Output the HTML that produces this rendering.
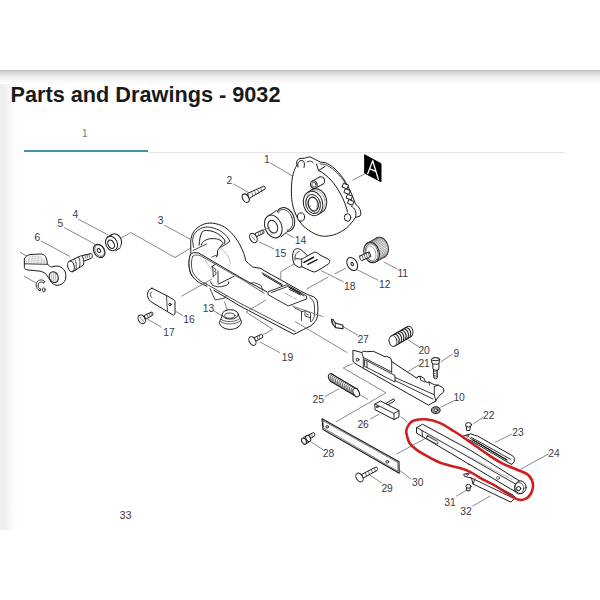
<!DOCTYPE html>
<html><head><meta charset="utf-8">
<style>
html,body{margin:0;padding:0;background:#fff;width:600px;height:600px;overflow:hidden;font-family:"Liberation Sans",sans-serif;}
.shadow{position:absolute;left:0;top:70px;width:600px;height:14px;background:linear-gradient(#bcbcbc 0px,#d6d6d6 2px,#ececec 6px,#f8f8f8 10px,#fdfdfd 14px);}
.leftg{position:absolute;left:0;top:84px;width:18px;height:446px;background:linear-gradient(90deg,#eeeeee 0px,#efefef 5px,#f9f9f9 11px,#fefefe 17px);}
h1{position:absolute;left:10.5px;top:80px;margin:0;font-size:21.7px;font-weight:bold;color:#1a1a1a;white-space:nowrap;line-height:30px;}
.tab1{position:absolute;left:82px;top:128px;font-size:10px;color:#777;}
.n33{position:absolute;left:119.5px;top:509px;font-size:11px;color:#444;}
.teal{position:absolute;left:24px;top:150px;width:124px;height:2px;background:#3a95a2;}
.gline{position:absolute;left:148px;top:152px;width:417px;height:1px;background:#e4e4e4;}
svg{position:absolute;left:0;top:0;}
</style></head><body>
<div class="shadow"></div>
<div class="leftg"></div>
<h1>Parts and Drawings - 9032</h1>
<div class="tab1">1</div>
<div class="teal"></div>
<div class="gline"></div>
<div class="n33">33</div>
<svg width="600" height="600" viewBox="0 0 600 600">
<g stroke="#6a6a6a" stroke-width="0.8" fill="none">
<path d="M270.2,162.8 L292.5,176"/>
<path d="M233.4,183.8 L248.6,192.6"/>
<path d="M164.2,225 L190,239.2"/>
<path d="M78.3,219.2 L108.3,235"/>
<path d="M64.2,227.5 L95,244.2"/>
<path d="M40.8,240.8 L70,256.5"/>
<path d="M365.3,173.6 L352.4,180.3"/>
<path d="M440.7,362 L452.7,354"/>
<path d="M440.7,407.3 L454,400.7"/>
<path d="M383.6,261.8 L397.7,269.4"/>
<path d="M356.5,269.4 L378.2,280.3"/>
<path d="M212.5,310 L223.3,316.7"/>
<path d="M285.3,233 L294,237.7"/>
<path d="M258.7,241.7 L274,249"/>
<path d="M176.1,311.5 L183.1,315.6"/>
<path d="M147.5,319.1 L161.5,327.3"/>
<path d="M320.8,270.5 L343.5,281.8"/>
<path d="M260,342 L280,352.7"/>
<path d="M407.3,339.3 L419.3,347.3"/>
<path d="M406,372.7 L419.3,364.7"/>
<path d="M473.1,424.1 L483.6,417"/>
<path d="M494.9,442.5 L511.9,434"/>
<path d="M520.4,469.4 L548.8,453.8"/>
<path d="M324.7,396.7 L339.3,388.7"/>
<path d="M370,419.3 L379.3,414"/>
<path d="M342,326 L358,335.3"/>
<path d="M311.3,442 L323.3,450"/>
<path d="M370,475.3 L382,483.3"/>
<path d="M399.3,470 L411.3,479.3"/>
<path d="M456.1,496.3 L466.6,490.1"/>
<path d="M472.3,506.3 L490.7,495.8"/>
<path d="M120.3,238.5 L130.8,232.5 L175.0,257.5 L191.7,247.5"/>
<path d="M20.0,252.0 L28.0,257.0"/>
<path d="M24.0,276.0 L36.0,283.0"/>
<path d="M294.7,213.7 L310.7,205.7"/>
<path d="M345.7,268.3 L334.8,273.8"/>
<path d="M328.3,277.0 L306.7,288.9"/>
<path d="M263.3,334.7 L272.7,329.3 L246.0,312.0"/>
<path d="M353.0,363.5 L343.2,368.0 L386.0,392.8 L335.8,422.0"/>
<path d="M359.0,394.2 L368.0,399.5"/>
<path d="M400.7,416.7 L407.3,422.0"/>
<path d="M396.7,454.0 L426.0,438.0"/>
<path d="M231.8,266.7 L244.5,260.3"/>
<path d="M224.5,301.5 L227.5,311.0"/>
</g>
<g id="parts" stroke="#1c1c1c" stroke-width="1" fill="#fff" stroke-linejoin="round" stroke-linecap="round">
<!-- PART 1 housing -->
<path d="M297,165 C296,162 297,159.5 300,158.5 L304.5,158.2 L309.75,156.75 L314.25,159 L320.25,162 L325.5,162.75 C331,165 337,170 342.75,177.75 C347,184 351,192 353.25,198 L355.5,204 L358.5,207 C361,210 361.5,214 360,216 L355.5,217.5 C353,221 350,225 346.5,228 C340,233 333,236 325.5,236.25 C318,236.5 310,232 303,225.75 C297,219 293,210 291.75,199.5 C291,191 291.5,182 292.5,177 C293.5,172 295,168 297,165 Z"/>
<path fill="none" d="M298,167 C297,163 299,160.5 302,160.5 C304.5,161 305,164 304,167.5"/>
<path fill="none" d="M307,162 C309,160.5 312,161 313.5,163"/>
<path fill="none" d="M316.5,164 L318.5,170.5 L325,166.5 M318.5,170.5 C328,175 335,184 340,193 C344,200 346.5,207 347.5,212"/>
<path fill="none" d="M351,206 C355,208 357,212 355.5,217.5"/>
<path fill="none" stroke-width="0.8" d="M320,163.8 L325.2,164.6 C330.5,166.7 336,171 341.2,177.5 C343,179.5 344.5,181.5 345.5,183.5"/>
<g stroke-width="0.9">
<rect x="343" y="184" width="5" height="4" transform="rotate(20 345 186)"/>
<rect x="345" y="189.5" width="5" height="4" transform="rotate(20 347 191)"/>
<rect x="347" y="195" width="5" height="4" transform="rotate(20 349 197)"/>
<rect x="348.5" y="200.5" width="5" height="4" transform="rotate(20 351 202)"/>
</g>
<ellipse cx="317.00" cy="200.90" rx="9.6" ry="12.4" transform="rotate(-15 317.00 200.90)" stroke-width="1"/>
<path d="M307.79,192.29 L311.79,189.79 L322.21,212.01 L318.21,214.51 Z" stroke="none"/>
<path fill="none" stroke-width="1" d="M307.79,192.29 L311.79,189.79 M318.21,214.51 L322.21,212.01"/>
<ellipse cx="313" cy="203.4" rx="9.6" ry="12.4" transform="rotate(-15 313 203.4)" stroke-width="1" />
<ellipse cx="316" cy="201.6" rx="9" ry="11.8" transform="rotate(-15 316 201.6)" fill="none" stroke-width="0.5" stroke="#666"/>
<ellipse cx="313.1" cy="204" rx="7.2" ry="9.7" transform="rotate(-15 313.1 204)" fill="none" stroke-width="0.9"/>
<ellipse cx="313.3" cy="204.1" rx="4.9" ry="7.1" transform="rotate(-15 313.3 204.1)" stroke-width="1.1"/>
<path fill="none" stroke-width="0.6" stroke="#555" d="M315.5,198.5 C317.5,200.5 318,205 316.5,209"/>
<ellipse cx="321.30" cy="180.60" rx="3.3" ry="3.9" transform="rotate(-20 321.30 180.60)" stroke-width="1"/>
<path d="M312.10,181.10 L319.60,177.10 L323.00,184.10 L315.50,188.10 Z" stroke="none"/>
<path fill="none" stroke-width="1" d="M312.10,181.10 L319.60,177.10 M315.50,188.10 L323.00,184.10"/>
<ellipse cx="313.8" cy="184.6" rx="3.3" ry="3.9" transform="rotate(-20 313.8 184.6)" stroke-width="1" />
<ellipse cx="313.9" cy="184.7" rx="2" ry="2.5" transform="rotate(-20 313.9 184.7)" fill="none" stroke-width="0.7"/>
<ellipse cx="301" cy="217" rx="3.6" ry="4.1"/>
<ellipse cx="347.5" cy="217.5" rx="3.2" ry="3.7"/>
<!-- A label -->
<path d="M365,155 L381,163.7 L381,181.7 L365,173.3 Z" fill="#000" stroke="#000"/>
<path d="M367.7,173.7 L372.7,160.7 L378.3,179.3 M369.8,168.8 L376.2,171.6" stroke="#fff" stroke-width="1.3" fill="none"/>
<!-- PART 2 screw -->
<path d="M248,193.2 L263.8,186.2 C265.2,186 265.6,188.5 264.9,189.1 L249.2,198.4 Z"/>
<path fill="none" stroke-width="0.6" d="M252,193 l0.8,2.6 M255,191.7 l0.8,2.6 M258,190.4 l0.8,2.6 M261,189 l0.8,2.6"/>
<ellipse cx="245.7" cy="198.2" rx="3" ry="4.5" transform="rotate(-30 245.7 198.2)"/>
<!-- PART 14 pulley -->
<ellipse cx="285.5" cy="219.5" rx="8.8" ry="12.2" transform="rotate(-20 285.5 219.5)"/>
<ellipse cx="285" cy="219.8" rx="7.4" ry="10.8" transform="rotate(-20 285 219.8)" fill="none" stroke-width="0.7"/>
<path d="M268,216.5 L276.5,210.5 L287.5,231.5 L280.5,237.2 Z" stroke="none"/>
<path fill="none" d="M268.5,216 L276.5,210.5 M281,236.8 L287.8,231.3"/>
<ellipse cx="273.3" cy="226.5" rx="8.3" ry="11.8" transform="rotate(-22 273.3 226.5)"/>
<ellipse cx="272.8" cy="226.7" rx="4.6" ry="6.6" transform="rotate(-22 272.8 226.7)"/>
<!-- PART 15 screw -->
<path d="M255.5,233.2 L262.5,230 C263.8,230 264.4,232.4 263.6,233.2 L256.5,236.8 Z"/>
<path fill="none" stroke-width="0.55" d="M258,232.2 l0.9,3 M260,231.3 l0.9,3 M262,230.4 l0.9,3"/>
<ellipse cx="253.4" cy="238" rx="3.3" ry="5" transform="rotate(-30 253.4 238)"/>
<path fill="none" stroke-width="0.6" d="M251.5,236 L255,240"/>
<!-- PART 4 ring -->
<ellipse cx="115.5" cy="241" rx="5.8" ry="7.4" transform="rotate(-25 115.5 241)"/>
<path d="M106.5,238.5 L111,235.5 L120.5,247.5 L115.5,250.5 Z" stroke="none"/>
<path fill="none" d="M107,237.2 L111.5,234.7 M115.8,250.6 L120.3,247.8"/>
<ellipse cx="111.5" cy="243.5" rx="5.7" ry="7.4" transform="rotate(-25 111.5 243.5)"/>
<ellipse cx="111.1" cy="244.3" rx="3" ry="4.4" transform="rotate(-25 111.1 244.3)"/>
<!-- PART 5 washer -->
<ellipse cx="99.2" cy="250.9" rx="5.3" ry="7.1" transform="rotate(-30 99.2 250.9)"/>
<ellipse cx="99.6" cy="250.6" rx="4.4" ry="6.2" transform="rotate(-30 99.6 250.6)" fill="none" stroke-width="0.6"/>
<ellipse cx="98.9" cy="250.5" rx="1.6" ry="2" transform="rotate(-30 98.9 250.5)"/>
<!-- PART 6 pin -->
<path d="M82.5,255.5 L91.2,253.6 C92.6,253.8 92.8,257.6 91.6,258.2 L83.4,261.4 Z"/>
<path fill="none" stroke-width="0.6" d="M85,254.9 l0.7,3.3 M87,254.5 l0.7,3.3 M89,254.1 l0.7,3.3"/>
<path d="M70.2,260.8 L80.8,255.8 C83.6,255.5 84.4,262.5 83.2,265.2 L72.5,271.9 Z"/>
<path fill="none" stroke-width="0.8" d="M74.5,259 C76.5,261.5 77,267.5 75.5,270.5 M78.5,257 C80.3,259.5 80.5,264 79.3,267.5"/>
<ellipse cx="71" cy="266.3" rx="3.2" ry="5.4" transform="rotate(-12 71 266.3)"/>
<!-- lever -->
<path d="M24.5,258.5 C25.5,256.5 27.5,255.3 30,254.6 L40,254 C42.5,254 44.5,254.8 45.5,256.5 C46.5,258 47,260 47.1,262 L47.3,264 C48.5,265.5 50,266.5 51.7,267 C53,266.5 55,266 57,266 C61,266.3 64,269 65.3,272 C66.3,275 66,279 64.5,281.5 C62.5,284 60,285.3 57,285.3 C54,285 52,283.5 50.5,281 C49,278.5 47.5,276 46.2,274.3 C44.5,272.5 42,271.5 39,271 L28,270 C26,269.6 24.8,269 24.5,268 Z"/>
<path fill="none" stroke-width="0.9" d="M24.5,263.8 L46.8,264.3"/>
<path fill="none" stroke-width="0.4" stroke="#a0a0a0" d="M26,261.5 L45.5,262.5 M26.5,259.8 L45,260.8 M28,258.1 L43.5,259.1 M30.5,256.5 L41,257.2 M29.5,256.5 L28.5,263.8 M32.5,255.2 L31.5,264 M35.5,254.6 L34.8,264.2 M38.5,254.8 L38,264.3 M41.5,256.3 L41.2,264.3 M44.3,258.3 L44,264.2"/>
<ellipse cx="53.8" cy="277.2" rx="4.4" ry="5.6" transform="rotate(-25 53.8 277.2)"/>
<path fill="none" stroke-width="0.45" stroke="#555" d="M51,273.5 L52,281.5 M53,272 L54,282 M55,272 L56,281.5 M57,273 L57.5,280"/>
<path fill="none" stroke-width="0.9" d="M44.8,281.7 C42.5,279 38.5,279.3 36.8,282.5 C35.3,285.5 36.5,289.5 40,290.8 M43.6,283 C41.6,281.3 39.3,281.8 38.4,284 C37.5,286.5 38.6,288.7 40.8,289.3 M44.8,281.7 L43.6,283 M40,290.8 L40.8,289.3"/>
<ellipse cx="43.8" cy="289.8" rx="1.4" ry="2" fill="none" stroke-width="0.9"/>
<!-- PART 3 arm -->
<path d="M190.7,243.3 C190.5,236 193,230 200.6,225.6 C206,222.5 213,222 221.8,225.6 C229,229 235,236 240,245 C243,251 245,256 245.7,260.7 L248.5,263.5 L252.7,267 L261.2,268.5 L264.1,270.6 L274,276.2 L288.2,284 L299.5,290.4 L308,294.7 L313.7,296.8 C315.5,298 316.8,299.5 317.5,302 C318,306 318,311 317.6,314.5 C317.2,318 316.5,320 315,321.6 C313.5,323.5 312.5,324.5 310.8,325.8 L303.7,329.4 L296.7,333 L293.8,334.3 L240,306 L207,286.2 C200,283 193,279 190.5,273 C188.5,267 188.5,260 190.7,254 Z"/>
<path fill="none" stroke-width="0.9" d="M193.7,247.3 C192,242 192.5,236 195,233 C198,229.5 202,227.5 206,227 C211,226.8 216,228.5 219.7,230.5 C223.5,232.8 226.5,235.5 228.3,238.6 L230,241.3 L226.2,244 L220.75,247.25"/>
<path fill="none" d="M199.1,245.1 C199.5,240 200,236 202.3,231.5 C204,230.5 206,230.3 208,230.5 C212,230.8 216,232.5 218.6,234.25 C221,235.8 223,237.5 224.5,239.8 C225.2,241.3 225,242.8 224,244"/>
<path fill="none" d="M201.25,245.1 C202,243 203,241.5 204.5,240.75 C207,239.3 209,238.8 211,238.6 C214,238.6 216.5,238.8 217.5,239.1 C219.5,239.7 221,240.5 221.8,241.3 C222.5,242 223,243 222.9,243.5 L220.75,246.2 L217.5,250.5 L217.5,254.8 L216.4,257"/>
<path fill="none" stroke-width="0.8" d="M193,250.5 L206.5,244"/>
<path fill="none" stroke-width="0.6" stroke="#888" d="M220.75,248.3 C223,250 225,252 226.2,253.75 C228,256 229,258 229.4,259.2 C230,261 230.3,262.5 230.5,263.5"/>
<!-- oval front -->
<path d="M190.7,254.7 C193,252 197,252 203.4,255.4 L213.3,260.3 C216,268 217,278 213.3,291.5 C205,288 196,282 192,275 C188.5,268 188.5,260 190.7,254.7 Z" stroke="none"/>
<path fill="none" d="M190.3,254.8 C188.3,260 188.4,267 190.8,273.5 C193.5,279 198,282.5 203,284.5 L207,286.2"/>
<path fill="none" stroke-width="0.8" d="M192.8,256.2 C190.8,261 191,267 193,272.5 C195.5,277.5 199.5,281 204,283 L206.5,284"/>
<path fill="none" d="M190.3,254.8 C192,252.5 195,252 199,253.2 L243,279 L266.9,291.8"/>
<path fill="none" stroke-width="0.7" d="M192.8,256.2 C195,254.5 197.5,254.5 201,256 L244,280.6 L264,293.2"/>
<path fill="none" stroke-width="0.8" d="M204.5,283 L240,303.2 L295.2,331.5"/>
<!-- hub -->
<path fill="none" stroke-width="0.9" d="M211.3,267 L215.3,264.3 M212.7,266.3 L213.3,277 M218,271 L218,283 M214,268 C216,268.5 216.5,270.5 214.5,271.5 C216.5,272 216.8,274.5 214.2,275.5"/>
<path fill="none" stroke-width="0.9" d="M210.7,281.7 C210.5,283.5 212,285.5 215.3,286.3 C218,287 221,287 224,286 C226.5,285.5 228.5,284.5 228.7,283 L228.7,281.7 M218,284.3 L234,276.3"/>
<path fill="none" stroke-width="0.6" stroke="#999" d="M205.3,260.3 L211.3,269.7"/>
<path fill="none" stroke-width="0.8" d="M212,257 L216.7,255"/>
<!-- arm inner details -->
<path fill="none" stroke-width="0.8" d="M250.6,283.3 L254.2,282.6 L261.2,285.5 L262.7,290.4"/>
<path fill="none" stroke-width="0.9" d="M268.3,291.8 L286.7,284.7 L306.6,296 L306.6,299 L288.2,306 L268.3,294.7 Z M271.5,292.5 L287.5,286.5 L304,296"/>
<path fill="none" stroke-width="0.6" stroke="#777" d="M285,293 L292,297 M294,298 l2,1"/>
<path fill="none" stroke-width="1" d="M262,272.7 L282.5,284.7 M263,274.6 L282,285.8 M289.6,287.6 L301,293.2 M289.6,289.4 L300.5,294.8"/>
<path fill="none" stroke-width="0.8" d="M301.5,312 L301.5,320.5 M301.5,312 L305,310.5 L310.5,313 L310.5,321.5 M305,310.5 L305,316 L310.5,318"/>
<path fill="none" stroke-width="0.7" d="M306.5,314 l2,1"/>
<path fill="none" stroke-width="0.8" d="M210,288.5 L215,300 L225,298 L226.5,295.5"/>
<path fill="none" stroke-width="0.8" d="M309.5,297 C312.5,299 314,302 314.5,306 L314.5,314 C314.3,317.5 313.5,319.5 311.5,321.5 M294,307.5 L302.3,311.7"/>
<!-- PART 13 cap -->
<path d="M222.3,315 C221.8,318 220,320 219.5,322.5 C219.6,326.3 224.5,329.4 230.3,329.4 C236.5,329.3 241.2,326 241.4,321.5 C241,319.5 239.5,317.5 238.5,315 Z"/>
<path fill="none" stroke-width="0.7" d="M220.6,321.5 C224,325 236.5,325 240.6,320.5 M221.2,319.5 C225,322.5 236,322.5 239.8,318.5"/>
<ellipse cx="230.3" cy="314.4" rx="8.1" ry="4.7"/>
<ellipse cx="229.8" cy="315.6" rx="5.2" ry="2.6" stroke-width="0.8"/>
<!-- PART 16 plate -->
<path d="M152,288.2 L168,296.3 L173.8,299.8 C174.8,300.5 175,301 175,302 L175,313 C175,314.5 174,315.2 173,315 L168,312 L153,303 C150,301.5 148,299 147.5,295.5 C147.3,292 148.8,289 152,288.2 Z"/>
<path fill="none" stroke-width="0.8" d="M166.5,296.5 L167.5,311.3 M151.5,292 C150,293.5 150,296 151.5,297.5"/>
<circle cx="170" cy="304.5" r="1.2"/>
<!-- PART 17 screw -->
<path d="M144.5,315.5 L151.5,312 C153,312 153.3,314.8 152.6,315.3 L146,319 Z"/>
<path fill="none" stroke-width="0.55" d="M147,314.3 l0.9,3 M149,313.3 l0.9,3 M151,312.4 l0.9,3"/>
<ellipse cx="141.7" cy="319.3" rx="3.3" ry="4.7" transform="rotate(-30 141.7 319.3)"/>
<path fill="none" stroke-width="0.6" d="M140,317.3 L143.5,321.3"/>
<!-- PART 19 screw -->
<path d="M254.5,337.5 L261.5,334.3 C262.8,334.5 263,337.2 262.3,337.7 L255.5,341.3 Z"/>
<path fill="none" stroke-width="0.55" d="M257,336.5 l0.9,3 M259,335.5 l0.9,3"/>
<ellipse cx="252.4" cy="341" rx="3.1" ry="4.7" transform="rotate(-30 252.4 341)"/>
<!-- PART 18 clip -->
<path d="M293.3,261.7 C292.3,258 292.3,254 293.75,250.8 C295,248.5 298,248 300.8,249.6 L303.3,251.7 L307.5,255.8 L314.6,252.1 L316.7,252.5 L320,255 L328.3,259.2 C329.5,260 330,261 329.6,261.7 C329.3,263 329,263.5 328.75,263.75 L318.3,270.4 L314.2,272.1 L311.7,271.25 L301.7,266.7 L299.2,267.5 L295,265 Z"/>
<path fill="none" stroke-width="0.9" d="M295,260 C294.5,256 296,252 299,251.5 M301.7,259.2 L307.5,255.8 M301.7,259.2 L301.7,266.7 M303.3,262.5 L313.3,257 M296,258.5 L301.7,259.2"/>
<path fill="none" stroke-width="1.4" d="M304.2,262.3 L313.6,257.3 M307.8,264.4 L317.2,259.7"/>
<!-- PART 11 knob -->
<ellipse cx="380.60" cy="247.50" rx="7.6" ry="10.4" transform="rotate(-15 380.60 247.50)" stroke-width="1"/>
<path d="M367.67,242.95 L376.67,237.95 L384.53,257.05 L375.53,262.05 Z" stroke="none"/>
<path fill="none" stroke-width="1" d="M367.67,242.95 L376.67,237.95 M375.53,262.05 L384.53,257.05"/>
<path fill="none" stroke="#555" stroke-width="0.55" d="M368.65,242.53 l9.00,-5.00 M369.82,242.29 l9.00,-5.00 M370.90,242.29 l9.00,-5.00 M372.13,242.52 l9.00,-5.00 M373.21,242.94 l9.00,-5.00 M374.38,243.63 l9.00,-5.00 M375.49,244.54 l9.00,-5.00 M376.40,245.51 l9.00,-5.00 M377.31,246.76 l9.00,-5.00 M377.99,248.00 l9.00,-5.00 M378.62,249.49 l9.00,-5.00 M379.03,250.88 l9.00,-5.00 M379.32,252.49 l9.00,-5.00 M379.42,254.09 l9.00,-5.00 M379.35,255.48 l9.00,-5.00 M379.08,256.97 l9.00,-5.00 M378.69,258.21 l9.00,-5.00 M378.09,259.47 l9.00,-5.00 M377.42,260.45 l9.00,-5.00 M376.54,261.36 l9.00,-5.00 "/>
<ellipse cx="371.6" cy="252.5" rx="7.6" ry="10.4" transform="rotate(-15 371.6 252.5)" stroke-width="1" />
<ellipse cx="371.8" cy="252.6" rx="6.2" ry="9" transform="rotate(-15 371.8 252.6)" fill="none" stroke-width="0.6"/>
<ellipse cx="371" cy="253.3" rx="4.8" ry="7.5" transform="rotate(-15 371 253.3)" fill="none" stroke-width="0.6" stroke="#777"/>
<path d="M359.8,256 L369.2,251.8 L371,256.5 L361.8,260.6 C360.5,261 359.3,257 359.8,256 Z"/>
<path fill="none" stroke-width="0.6" d="M362,255 l1.4,4.2 M364,254.1 l1.4,4.2 M366,253.2 l1.4,4.2 M368,252.3 l1.4,4.2"/>
<!-- PART 12 washer -->
<ellipse cx="352.2" cy="264" rx="4.8" ry="7" transform="rotate(-30 352.2 264)"/>
<ellipse cx="352.2" cy="264" rx="1.2" ry="1.7" transform="rotate(-30 352.2 264)"/>
<!-- PART 27 clip -->
<path d="M331.5,319.2 L333,319.5 L335.3,323 L342.9,325.2 L343,328.8 L335.5,327.6 L332,323 Z" stroke-width="1.1"/>
<path fill="none" stroke-width="0.8" d="M332.3,320.8 L333,324.3 M335.3,323 L335.5,327.6"/>
<!-- PART 20 spring -->
<ellipse cx="409.00" cy="331.70" rx="3.9" ry="5.4" transform="rotate(-10 409.00 331.70)" stroke-width="1"/>
<path d="M391.10,336.04 L407.10,326.74 L410.90,336.66 L394.90,345.96 Z" stroke="none"/>
<path fill="none" stroke-width="1" d="M391.10,336.04 L407.10,326.74 M394.90,345.96 L410.90,336.66"/>
<path fill="none" stroke="#222" stroke-width="1.1" d="M393.39,334.71 L393.76,334.52 L394.15,334.40 L394.55,334.33 L394.96,334.31 L395.37,334.36 L395.79,334.46 L396.19,334.63 L396.59,334.84 L396.97,335.11 L397.34,335.43 L397.68,335.80 L398.00,336.21 L398.28,336.65 L398.54,337.13 L398.75,337.64 L398.93,338.17 L399.07,338.72 L399.17,339.27 L399.23,339.83 L399.24,340.39 L399.21,340.94 L399.13,341.48 L399.02,342.00 L398.86,342.49 L398.66,342.95 L398.43,343.38 L398.16,343.76 L397.86,344.10 L397.54,344.39 L397.19,344.63 L397.19,344.63 M395.67,333.38 L396.04,333.20 L396.43,333.07 L396.84,333.00 L397.25,332.98 L397.66,333.03 L398.07,333.14 L398.48,333.30 L398.88,333.51 L399.26,333.78 L399.62,334.10 L399.97,334.47 L400.28,334.88 L400.57,335.33 L400.82,335.80 L401.04,336.31 L401.22,336.84 L401.36,337.39 L401.46,337.94 L401.51,338.51 L401.52,339.07 L401.49,339.62 L401.42,340.15 L401.30,340.67 L401.15,341.16 L400.95,341.62 L400.72,342.05 L400.45,342.43 L400.15,342.77 L399.82,343.06 L399.47,343.30 L399.47,343.30 M397.96,332.05 L398.33,331.87 L398.72,331.74 L399.12,331.67 L399.53,331.66 L399.95,331.70 L400.36,331.81 L400.77,331.97 L401.16,332.19 L401.55,332.46 L401.91,332.78 L402.25,333.14 L402.57,333.55 L402.85,334.00 L403.11,334.48 L403.32,334.98 L403.50,335.51 L403.64,336.06 L403.74,336.62 L403.80,337.18 L403.81,337.74 L403.78,338.29 L403.70,338.83 L403.59,339.34 L403.43,339.83 L403.24,340.30 L403.00,340.72 L402.74,341.11 L402.44,341.45 L402.11,341.74 L401.76,341.98 L401.76,341.98 M400.24,330.72 L400.62,330.54 L401.01,330.41 L401.41,330.34 L401.82,330.33 L402.23,330.37 L402.64,330.48 L403.05,330.64 L403.45,330.86 L403.83,331.13 L404.20,331.45 L404.54,331.81 L404.85,332.22 L405.14,332.67 L405.39,333.15 L405.61,333.66 L405.79,334.18 L405.93,334.73 L406.03,335.29 L406.08,335.85 L406.10,336.41 L406.06,336.96 L405.99,337.50 L405.87,338.01 L405.72,338.51 L405.52,338.97 L405.29,339.39 L405.02,339.78 L404.72,340.12 L404.39,340.41 L404.04,340.65 L404.04,340.65 M402.53,329.40 L402.90,329.21 L403.29,329.08 L403.69,329.01 L404.10,329.00 L404.52,329.05 L404.93,329.15 L405.34,329.31 L405.73,329.53 L406.12,329.80 L406.48,330.12 L406.82,330.48 L407.14,330.89 L407.42,331.34 L407.68,331.82 L407.90,332.33 L408.08,332.86 L408.21,333.40 L408.31,333.96 L408.37,334.52 L408.38,335.08 L408.35,335.63 L408.28,336.17 L408.16,336.69 L408.00,337.18 L407.81,337.64 L407.57,338.06 L407.31,338.45 L407.01,338.79 L406.68,339.08 L406.33,339.32 L406.33,339.32 M404.81,328.07 L405.19,327.88 L405.58,327.75 L405.98,327.68 L406.39,327.67 L406.80,327.72 L407.22,327.82 L407.62,327.98 L408.02,328.20 L408.40,328.47 L408.77,328.79 L409.11,329.16 L409.42,329.56 L409.71,330.01 L409.96,330.49 L410.18,331.00 L410.36,331.53 L410.50,332.07 L410.60,332.63 L410.65,333.19 L410.67,333.75 L410.64,334.30 L410.56,334.84 L410.45,335.36 L410.29,335.85 L410.09,336.31 L409.86,336.74 L409.59,337.12 L409.29,337.46 L408.97,337.75 L408.61,337.99 L408.61,337.99 "/>
<ellipse cx="393" cy="341" rx="3.9" ry="5.4" transform="rotate(-10 393 341)" stroke-width="1"/>
<!-- PART 21 rail -->
<path d="M353.3,350.3 L361.7,352.5 L363.3,351.3 L366.7,351.7 L373.3,351.3 L385,356.7 L386.7,356.3 L390.8,358.3 L391.7,361.7 L417,378.3 L417.7,376.7 L420.3,376.3 L423.7,378 L425,380.7 L426.3,382.3 L429,382 L432.3,383.7 L434.3,384.7 L438.3,385.3 L442.3,387.3 L443.7,388.7 L443.7,392 L439.7,395.3 L437,398.7 L435.7,401.3 L430.3,404 L428.3,405 L363.3,368.3 L355,363.3 L353.3,361.7 Z"/>
<path fill="none" stroke-width="0.9" d="M361.7,352.5 L363.3,357.5 L363.3,368.3 M363.3,357.5 L391.7,372 M365,359.8 L395,375.5 L395,382 L365,366.5 Z M367,361.5 L367,367.3 M395,377.5 L434.3,394.7 M395,380.5 L433,399 M391.7,361.7 L391.7,372 M434.3,386.7 L434.3,394.7 L435.7,400.5 M434.3,386.7 L438.3,384.8 M420.3,376.3 L420.5,380 L425,382 M429,382 L429.5,385"/>
<circle cx="357.5" cy="359.7" r="1.4"/>
<!-- PART 9 screw -->
<path d="M433.8,369.5 L437.3,369.5 L437.2,378 C436.8,379.2 434.2,379.2 433.9,378 Z"/>
<path fill="none" stroke-width="0.6" d="M433.9,371.5 l3.4,-0.7 M433.9,373.5 l3.4,-0.7 M433.9,375.5 l3.4,-0.7 M433.9,377.3 l3.3,-0.6"/>
<path d="M433.1,363.4 L439,363.4 L438.8,369.5 C437.5,370.5 434.5,370.5 433.3,369.5 Z"/>
<path d="M431.5,359.2 C431.5,357.5 439.6,357.5 439.6,359.2 L439,363.4 C437.5,364.6 433.5,364.6 432.2,363.4 Z"/>
<ellipse cx="435.55" cy="359.2" rx="4.05" ry="1.5"/>
<!-- PART 10 washer -->
<ellipse cx="435.8" cy="410.2" rx="4.3" ry="3.3" stroke-width="1.2"/>
<ellipse cx="435.8" cy="410.2" rx="3.2" ry="2.4" fill="none" stroke-width="1" stroke="#777"/>
<ellipse cx="435.8" cy="410.2" rx="1.9" ry="1.3" stroke-width="1"/>
<!-- PART 25 spring -->
<ellipse cx="331.70" cy="378.00" rx="2.9" ry="4.5" transform="rotate(-25 331.70 378.00)" stroke-width="1"/>
<path d="M355.80,396.32 L331.30,381.82 L332.10,374.18 L356.60,388.68 Z" stroke="none"/>
<path fill="none" stroke-width="1" d="M355.80,396.32 L331.30,381.82 M356.60,388.68 L332.10,374.18"/>
<path fill="none" stroke="#222" stroke-width="0.9" d="M354.05,395.28 L353.71,395.06 L353.39,394.81 L353.07,394.51 L352.77,394.19 L352.49,393.83 L352.23,393.45 L352.00,393.04 L351.79,392.62 L351.61,392.18 L351.46,391.74 L351.35,391.30 L351.26,390.85 L351.22,390.41 L351.21,389.99 L351.23,389.58 L351.29,389.19 L351.38,388.83 L351.51,388.49 L351.67,388.19 L351.86,387.92 L352.08,387.69 L352.33,387.51 L352.59,387.37 L352.88,387.27 L353.19,387.21 L353.51,387.21 L353.84,387.25 L354.17,387.34 L354.51,387.47 L354.85,387.65 L354.85,387.65 M352.30,394.25 L351.96,394.03 L351.64,393.77 L351.32,393.48 L351.02,393.15 L350.74,392.79 L350.48,392.41 L350.25,392.00 L350.04,391.58 L349.86,391.15 L349.71,390.71 L349.60,390.26 L349.51,389.82 L349.47,389.38 L349.46,388.95 L349.48,388.54 L349.54,388.15 L349.63,387.79 L349.76,387.46 L349.92,387.15 L350.11,386.89 L350.33,386.66 L350.58,386.47 L350.84,386.33 L351.13,386.23 L351.44,386.18 L351.76,386.17 L352.09,386.21 L352.42,386.30 L352.76,386.43 L353.10,386.61 L353.10,386.61 M350.55,393.21 L350.21,392.99 L349.89,392.74 L349.57,392.44 L349.27,392.11 L348.99,391.76 L348.73,391.37 L348.50,390.97 L348.29,390.55 L348.11,390.11 L347.96,389.67 L347.85,389.22 L347.76,388.78 L347.72,388.34 L347.71,387.92 L347.73,387.51 L347.79,387.12 L347.88,386.76 L348.01,386.42 L348.17,386.12 L348.36,385.85 L348.58,385.62 L348.83,385.44 L349.09,385.29 L349.38,385.20 L349.69,385.14 L350.01,385.14 L350.34,385.18 L350.67,385.27 L351.01,385.40 L351.35,385.57 L351.35,385.57 M348.80,392.18 L348.46,391.96 L348.14,391.70 L347.82,391.41 L347.52,391.08 L347.24,390.72 L346.98,390.34 L346.75,389.93 L346.54,389.51 L346.36,389.08 L346.21,388.63 L346.10,388.19 L346.01,387.74 L345.97,387.31 L345.96,386.88 L345.98,386.47 L346.04,386.08 L346.13,385.72 L346.26,385.38 L346.42,385.08 L346.61,384.82 L346.83,384.59 L347.08,384.40 L347.34,384.26 L347.63,384.16 L347.94,384.11 L348.26,384.10 L348.59,384.14 L348.92,384.23 L349.26,384.36 L349.60,384.54 L349.60,384.54 M347.05,391.14 L346.71,390.92 L346.39,390.66 L346.07,390.37 L345.77,390.04 L345.49,389.69 L345.23,389.30 L345.00,388.90 L344.79,388.48 L344.61,388.04 L344.46,387.60 L344.35,387.15 L344.26,386.71 L344.22,386.27 L344.21,385.85 L344.23,385.44 L344.29,385.05 L344.38,384.68 L344.51,384.35 L344.67,384.05 L344.86,383.78 L345.08,383.55 L345.33,383.37 L345.59,383.22 L345.88,383.12 L346.19,383.07 L346.51,383.07 L346.84,383.11 L347.17,383.19 L347.51,383.33 L347.85,383.50 L347.85,383.50 M345.30,390.10 L344.96,389.89 L344.64,389.63 L344.32,389.33 L344.02,389.01 L343.74,388.65 L343.48,388.27 L343.25,387.86 L343.04,387.44 L342.86,387.01 L342.71,386.56 L342.60,386.12 L342.51,385.67 L342.47,385.24 L342.46,384.81 L342.48,384.40 L342.54,384.01 L342.63,383.65 L342.76,383.31 L342.92,383.01 L343.11,382.74 L343.33,382.52 L343.58,382.33 L343.84,382.19 L344.13,382.09 L344.44,382.04 L344.76,382.03 L345.09,382.07 L345.42,382.16 L345.76,382.29 L346.10,382.47 L346.10,382.47 M343.55,389.07 L343.21,388.85 L342.89,388.59 L342.57,388.30 L342.27,387.97 L341.99,387.61 L341.73,387.23 L341.50,386.83 L341.29,386.40 L341.11,385.97 L340.96,385.53 L340.85,385.08 L340.76,384.64 L340.72,384.20 L340.71,383.77 L340.73,383.36 L340.79,382.98 L340.88,382.61 L341.01,382.28 L341.17,381.97 L341.36,381.71 L341.58,381.48 L341.83,381.29 L342.09,381.15 L342.38,381.05 L342.69,381.00 L343.01,380.99 L343.34,381.04 L343.67,381.12 L344.01,381.26 L344.35,381.43 L344.35,381.43 M341.80,388.03 L341.46,387.81 L341.14,387.56 L340.82,387.26 L340.52,386.94 L340.24,386.58 L339.98,386.20 L339.75,385.79 L339.54,385.37 L339.36,384.93 L339.21,384.49 L339.10,384.05 L339.01,383.60 L338.97,383.16 L338.96,382.74 L338.98,382.33 L339.04,381.94 L339.13,381.58 L339.26,381.24 L339.42,380.94 L339.61,380.67 L339.83,380.44 L340.08,380.26 L340.34,380.12 L340.63,380.02 L340.94,379.96 L341.26,379.96 L341.59,380.00 L341.92,380.09 L342.26,380.22 L342.60,380.40 L342.60,380.40 M340.05,387.00 L339.71,386.78 L339.39,386.52 L339.07,386.23 L338.77,385.90 L338.49,385.54 L338.23,385.16 L338.00,384.75 L337.79,384.33 L337.61,383.90 L337.46,383.46 L337.35,383.01 L337.26,382.57 L337.22,382.13 L337.21,381.70 L337.23,381.29 L337.29,380.90 L337.38,380.54 L337.51,380.21 L337.67,379.90 L337.86,379.64 L338.08,379.41 L338.33,379.22 L338.59,379.08 L338.88,378.98 L339.19,378.93 L339.51,378.92 L339.84,378.96 L340.17,379.05 L340.51,379.18 L340.85,379.36 L340.85,379.36 M338.30,385.96 L337.96,385.74 L337.64,385.49 L337.32,385.19 L337.02,384.86 L336.74,384.51 L336.48,384.12 L336.25,383.72 L336.04,383.30 L335.86,382.86 L335.71,382.42 L335.60,381.97 L335.51,381.53 L335.47,381.09 L335.46,380.67 L335.48,380.26 L335.54,379.87 L335.63,379.51 L335.76,379.17 L335.92,378.87 L336.11,378.60 L336.33,378.37 L336.58,378.19 L336.84,378.04 L337.13,377.95 L337.44,377.89 L337.76,377.89 L338.09,377.93 L338.42,378.02 L338.76,378.15 L339.10,378.32 L339.10,378.32 M336.55,384.93 L336.21,384.71 L335.89,384.45 L335.57,384.16 L335.27,383.83 L334.99,383.47 L334.73,383.09 L334.50,382.68 L334.29,382.26 L334.11,381.83 L333.96,381.38 L333.85,380.94 L333.76,380.49 L333.72,380.06 L333.71,379.63 L333.73,379.22 L333.79,378.83 L333.88,378.47 L334.01,378.13 L334.17,377.83 L334.36,377.57 L334.58,377.34 L334.83,377.15 L335.09,377.01 L335.38,376.91 L335.69,376.86 L336.01,376.85 L336.34,376.89 L336.67,376.98 L337.01,377.11 L337.35,377.29 L337.35,377.29 M334.80,383.89 L334.46,383.67 L334.14,383.41 L333.82,383.12 L333.52,382.79 L333.24,382.44 L332.98,382.05 L332.75,381.65 L332.54,381.23 L332.36,380.79 L332.21,380.35 L332.10,379.90 L332.01,379.46 L331.97,379.02 L331.96,378.60 L331.98,378.19 L332.04,377.80 L332.13,377.43 L332.26,377.10 L332.42,376.80 L332.61,376.53 L332.83,376.30 L333.08,376.12 L333.34,375.97 L333.63,375.87 L333.94,375.82 L334.26,375.82 L334.59,375.86 L334.92,375.94 L335.26,376.08 L335.60,376.25 L335.60,376.25 M333.05,382.85 L332.71,382.64 L332.39,382.38 L332.07,382.08 L331.77,381.76 L331.49,381.40 L331.23,381.02 L331.00,380.61 L330.79,380.19 L330.61,379.76 L330.46,379.31 L330.35,378.87 L330.26,378.42 L330.22,377.99 L330.21,377.56 L330.23,377.15 L330.29,376.76 L330.38,376.40 L330.51,376.06 L330.67,375.76 L330.86,375.49 L331.08,375.27 L331.33,375.08 L331.59,374.94 L331.88,374.84 L332.19,374.79 L332.51,374.78 L332.84,374.82 L333.17,374.91 L333.51,375.04 L333.85,375.22 L333.85,375.22 "/>
<ellipse cx="356.2" cy="392.5" rx="2.9" ry="4.5" transform="rotate(-25 356.2 392.5)" stroke-width="1"/>
<!-- PART 26 block -->
<path d="M386.5,403 L393.5,399 C394.6,399 394.8,400.6 394.2,401.1 L387.5,405 Z"/>
<path d="M375,404 L380.5,401 L399,410.5 L399,417 L394,419.5 L375.5,410 Z"/>
<path fill="none" stroke-width="0.9" d="M375,404 L394,413.5 L399,410.5 M394,413.5 L394,419.5"/>
<circle cx="377.3" cy="406.8" r="0.9"/>
<!-- PART 28 screw -->
<path d="M307.5,435.5 L313.5,432.5 C314.8,432.6 315.2,435.6 314.4,436.1 L308.5,439.5 Z"/>
<path fill="none" stroke-width="0.55" d="M309.5,434.5 l0.8,3 M311.5,433.5 l0.8,3"/>
<path d="M302.5,438.5 L306.5,435.5 L309.8,441.5 L305.5,444 Z"/>
<ellipse cx="308.2" cy="438.5" rx="2.2" ry="3.3" transform="rotate(-30 308.2 438.5)"/>
<ellipse cx="304" cy="441.2" rx="2.2" ry="3.3" transform="rotate(-30 304 441.2)"/>
<!-- PART 30 plate -->
<path d="M322,418.8 L399,461.8 L399.2,473.2 L323,429.5 Z" stroke-width="1.1"/>
<path fill="none" stroke-width="0.6" d="M323.3,420.8 L397.8,462.5 L398,471.3 L324.2,428.5 Z"/>
<circle cx="327.2" cy="426.8" r="1.3"/>
<circle cx="387.3" cy="461.8" r="1.3"/>
<!-- PART 29 screw -->
<path d="M362,474.2 L376,467 C377.5,467 378,469.8 377.2,470.4 L363.3,478 Z"/>
<path fill="none" stroke-width="0.6" d="M365.5,473 l0.9,2.6 M368.5,471.5 l0.9,2.6 M371.5,470 l0.9,2.6 M374.5,468.5 l0.9,2.6"/>
<ellipse cx="359.5" cy="477.5" rx="3.2" ry="4.8" transform="rotate(-30 359.5 477.5)"/>
<!-- PART 24 bar -->
<path d="M416.9,427.5 L422.5,424.2 L470,450 L519.5,481 L525,485 L521,492.5 L515,491.5 L425,438 L416.9,433.3 Z"/>
<path fill="none" stroke-width="0.9" d="M416.9,427.5 L422,430.5 L519,486 M422,430.5 L422.5,437"/>
<path fill="none" stroke-width="0.5" stroke="#777" d="M428,435 L512,479.5"/>
<path stroke-width="0.9" d="M427.5,436 L436.5,441 C438.5,442 438.5,444.5 436.5,444 L428,439.5 C426,438.5 426,436 427.5,436 Z"/>
<ellipse cx="520.5" cy="487.3" rx="5.6" ry="6.4"/>
<ellipse cx="519" cy="488.3" rx="4.8" ry="5.6" fill="none" stroke-width="0.7"/>
<circle cx="518.6" cy="488.6" r="2.1"/>
<circle cx="498" cy="478" r="1.5" fill="none" stroke-width="0.6"/>
<circle cx="469" cy="464.5" r="0.6" fill="none" stroke-width="0.6"/>
<!-- PART 22 screw -->
<path d="M466.5,426 L470.5,426 L469.8,430.5 L467.2,430.5 Z"/>
<ellipse cx="468.5" cy="424.8" rx="3" ry="2.2"/>
<!-- PART 23 rail -->
<path d="M463.25,436 L470.75,433.75 L474.5,435.25 L477.5,436 L512,455.5 C513.5,456.5 514.25,457.5 514.25,458.5 L514.25,461.5 L512,464.5 L509,463 L471.5,441 L464.5,438.5 Z"/>
<path fill="none" stroke-width="0.9" d="M471.5,437.5 L511,459.5 M469.8,438 L506,459.5"/>
<path fill="none" stroke-width="1.4" d="M473,440 L507,460"/>
<circle cx="467.5" cy="436" r="1" fill="none" stroke-width="0.7"/>
<!-- PART 32 rail -->
<path d="M464,474.25 L470,472.75 L473,473.5 L512,494.5 C514,495.5 515,496.5 515,498.25 L512,501.25 L510.5,502 L473,484 L471.5,478 L465,476.5 Z"/>
<path fill="none" stroke-width="0.9" d="M471.5,478 L513,498 M473,484 L475,479"/>
<circle cx="467.5" cy="474.5" r="0.9" fill="none" stroke-width="0.7"/>
<!-- PART 31 screw -->
<path d="M466.8,487 L470.2,487 L469.8,490.8 L467.2,490.8 Z"/>
<ellipse cx="468.5" cy="486.3" rx="2.6" ry="1.9"/>
<!-- red loop -->
<path fill="none" stroke="#d01d1d" stroke-width="2.6" stroke-linejoin="round" d="M409.33,424.00 C410.62,422.33 411.28,421.28 414.00,420.50 C416.72,419.72 421.39,418.94 425.66,419.33 C429.94,419.72 435.00,420.89 439.66,422.83 C444.33,424.78 449.00,428.08 453.66,431.00 C458.33,433.92 463.38,437.41 467.66,440.33 C471.94,443.25 475.44,445.78 479.33,448.50 C483.22,451.22 487.11,454.14 490.99,456.66 C494.88,459.19 498.38,461.52 502.66,463.66 C506.94,465.80 512.58,467.75 516.66,469.50 C520.74,471.25 524.63,472.41 527.16,474.16 C529.69,475.91 530.85,477.86 531.82,480.00 C532.80,482.13 533.19,484.66 532.99,486.99 C532.80,489.33 531.82,492.05 530.66,493.99 C529.49,495.94 527.94,497.69 525.99,498.66 C524.05,499.63 521.33,500.22 518.99,499.83 C516.66,499.44 514.71,497.88 511.99,496.33 C509.27,494.77 505.77,492.44 502.66,490.49 C499.55,488.55 496.83,486.61 493.33,484.66 C489.83,482.72 485.55,480.97 481.66,478.83 C477.77,476.69 473.50,473.58 470.00,471.83 C466.50,470.08 463.77,469.30 460.66,468.33 C457.55,467.36 454.83,466.97 451.33,466.00 C447.83,465.02 443.55,464.05 439.66,462.50 C435.78,460.94 431.89,458.80 428.00,456.66 C424.11,454.52 419.44,452.00 416.33,449.66 C413.22,447.33 410.89,445.00 409.33,442.66 C407.78,440.33 407.51,437.69 407.00,435.66 C406.49,433.64 405.91,432.48 406.30,430.53 C406.69,428.59 408.05,425.67 409.33,424.00 Z"/>

</g>
<g stroke="#6a6a6a" stroke-width="0.8" fill="none">
<path d="M246.0,312.0 L266.0,300.0"/>
<path d="M181.3,296.3 L212.0,279.0"/>
<path d="M295.0,321.5 L347.3,352.7"/>
<path d="M291.7,305.8 L323.3,316.7"/>
<path d="M295.0,263.3 L280.8,271.7 L280.8,280.0"/>
<path d="M263.3,229.7 L270.0,227.7"/>
<path d="M308.6,206.8 L311.0,205.6"/>
</g>
<g font-family="Liberation Sans" font-size="10.3" fill="#3a3a44">
<text x="264.1" y="163.0">1</text>
<text x="226.6" y="184.3">2</text>
<text x="157.7" y="224.0">3</text>
<text x="72.4" y="218.2">4</text>
<text x="57.4" y="227.4">5</text>
<text x="34.4" y="240.7">6</text>
<text x="453.4" y="357.4">9</text>
<text x="453.4" y="401.4">10</text>
<text x="397.4" y="276.7">11</text>
<text x="379.1" y="287.5">12</text>
<text x="202.7" y="311.7">13</text>
<text x="294.7" y="244.4">14</text>
<text x="274.7" y="257.0">15</text>
<text x="183.3" y="322.7">16</text>
<text x="163.2" y="335.5">17</text>
<text x="344.0" y="290.3">18</text>
<text x="281.8" y="361.4">19</text>
<text x="418.4" y="353.9">20</text>
<text x="418.4" y="366.9">21</text>
<text x="483.0" y="419.1">22</text>
<text x="512.2" y="436.1">23</text>
<text x="548.2" y="457.4">24</text>
<text x="312.6" y="402.7">25</text>
<text x="357.4" y="428.0">26</text>
<text x="357.4" y="342.7">27</text>
<text x="322.7" y="457.4">28</text>
<text x="381.4" y="491.5">29</text>
<text x="412.1" y="486.2">30</text>
<text x="444.2" y="505.5">31</text>
<text x="460.3" y="514.6">32</text>
</g>
</svg>
</body></html>
